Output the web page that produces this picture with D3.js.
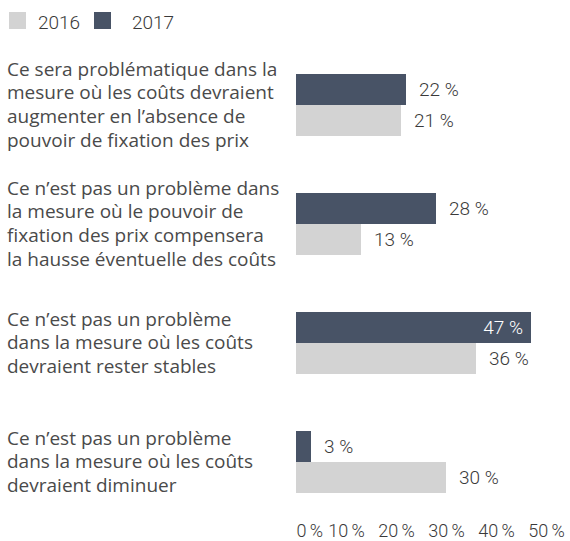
<!DOCTYPE html>
<html>
<head>
<meta charset="utf-8">
<script src="https://cdn.jsdelivr.net/npm/d3@7"></script>
<style>
  body { margin: 0; background: #fff; }
  .cat { font-family: "Open Sans", sans-serif; font-size: 19px; fill: #4a4a4a; }
  .num { font-family: Roboto, sans-serif; font-weight: 300; font-size: 19px; fill: #3a3a3a; }
</style>
</head>
<body>
<div id="chart"></div>
<script>
var width = 570, height = 541;

const categories = [
    ["Ce sera problématique dans la", "mesure où les coûts devraient", "augmenter en l’absence de", "pouvoir de fixation des prix"],
    ["Ce n’est pas un problème dans", "la mesure où le pouvoir de", "fixation des prix compensera", "la hausse éventuelle des coûts"],
    ["Ce n’est pas un problème", "dans la mesure où les coûts", "devraient rester stables"],
    ["Ce n’est pas un problème", "dans la mesure où les coûts", "devraient diminuer"]
];
const years = ["2016", "2017"];
const values2016 = [21, 13, 36, 30];
const values2017 = [22, 28, 47, 3];
const ticks = [0, 10, 20, 30, 40, 50];

const colors = { "2016": "#d3d3d3", "2017": "#485366" };

let data = categories.map(function (c, i) {
    return { i: i, lines: c, "2016": values2016[i], "2017": values2017[i] };
});

var svg = d3.select("#chart").append("svg")
    .attr("width", width)
    .attr("height", height);

let x = d3.scaleLinear().domain([0, 50]).range([296, 546]);

let y = d3.scaleBand()
    .domain(data.map(d => d.i))
    .range([45.5, 521.5])
    .paddingInner(0.479)
    .paddingOuter(0.2395);

let ySub = d3.scaleBand()
    .domain(["2017", "2016"])
    .range([0, y.bandwidth()]);

// legend
let legend = svg.append("g");
years.forEach(function (yr, i) {
    let lx = i === 0 ? 9 : 94;
    legend.append("rect")
        .attr("x", lx).attr("y", 12)
        .attr("width", 17).attr("height", 17)
        .attr("fill", colors[yr]);
    legend.append("text")
        .attr("class", "num")
        .attr("x", lx + (i === 0 ? 29 : 38)).attr("y", 29)
        .text(yr);
});

// category labels
let groups = svg.selectAll(".grp")
    .data(data).enter()
    .append("g")
    .attr("class", "grp")
    .attr("transform", d => "translate(0," + y(d.i) + ")");

groups.append("text")
    .attr("class", "cat")
    .each(function (d) {
        let t = d3.select(this);
        let n = d.lines.length;
        let mid = y.bandwidth() / 2;
        d.lines.forEach(function (line, k) {
            t.append("tspan")
                .attr("x", 7)
                .attr("y", mid + (k - (n - 1) / 2) * 24 + 6.5)
                .text(line);
        });
    });

// bars
["2017", "2016"].forEach(function (yr) {
    groups.append("rect")
        .attr("x", x(0))
        .attr("y", ySub(yr))
        .attr("width", d => x(d[yr]) - x(0))
        .attr("height", ySub.bandwidth())
        .attr("fill", colors[yr]);

    groups.append("text")
        .attr("class", "num")
        .attr("y", ySub(yr) + ySub.bandwidth() / 2)
        .attr("dy", "0.35em")
        .each(function (d) {
            let inside = x(d[yr]) + 55 > width;
            d3.select(this)
                .attr("x", inside ? x(d[yr]) - 8 : x(d[yr]) + 13)
                .attr("text-anchor", inside ? "end" : "start")
                .style("fill", inside ? "#fff" : "#3a3a3a")
                .text(d[yr] + " %");
        });
});

// axis
let axis = svg.append("g")
    .attr("transform", "translate(0,521)")
    .call(d3.axisBottom(x).tickValues(ticks).tickSize(0).tickPadding(3).tickFormat(d => d + " %"));

axis.select(".domain").remove();
axis.selectAll("text")
    .attr("class", "num")
    .attr("fill", null)
    .style("font-family", "Roboto, sans-serif")
    .style("font-weight", 300)
    .style("font-size", "18px")
    .style("word-spacing", "-1px")
    .style("fill", "#3a3a3a")
    .attr("text-anchor", d => d === 0 ? "start" : "middle");
</script>
</body>
</html>
